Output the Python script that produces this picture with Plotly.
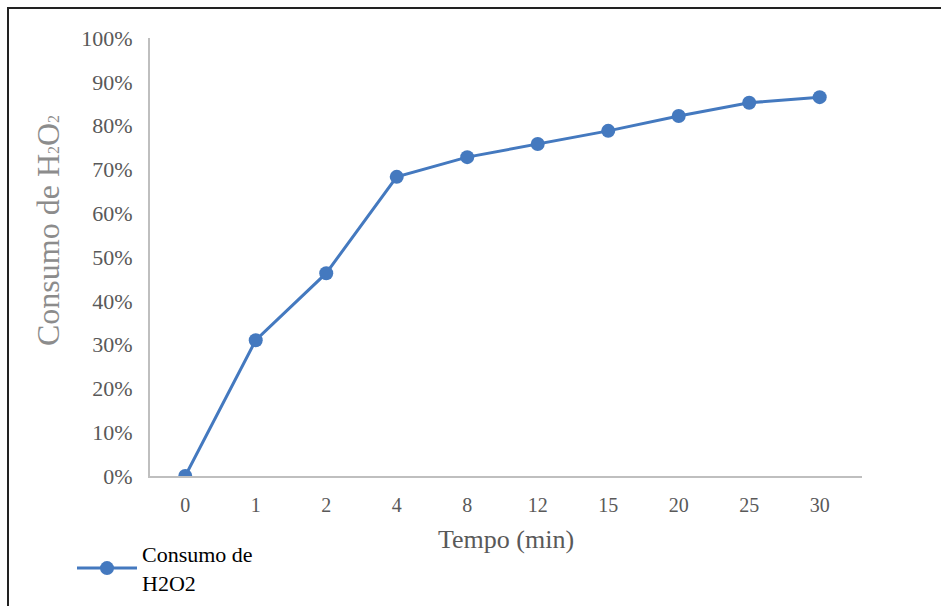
import plotly.graph_objects as go

tempo = ["0", "1", "2", "4", "8", "12", "15", "20", "25", "30"]
consumo = [0.0, 0.310, 0.463, 0.683, 0.728, 0.758, 0.788, 0.822, 0.852, 0.865]
y_ticks = [0, 0.1, 0.2, 0.3, 0.4, 0.5, 0.6, 0.7, 0.8, 0.9, 1.0]
y_tick_labels = ["0%", "10%", "20%", "30%", "40%", "50%", "60%", "70%", "80%", "90%", "100%"]

blue = "#4479BF"
grey_txt = "#595959"
font_fam = "Times New Roman"

fig = go.Figure()
fig.add_trace(go.Scatter(
    x=tempo, y=consumo, mode="lines+markers",
    name="Consumo de<br>H2O2",
    line=dict(color=blue, width=3),
    marker=dict(color=blue, size=14),
))

L, R, T, B = 150, 941 - 862, 38, 606 - 476
W = 941 - L - R
H = 606 - T - B
fig.update_layout(
    width=941, height=606,
    margin=dict(l=L, r=R, t=T, b=B, autoexpand=False),
    paper_bgcolor="white", plot_bgcolor="white",
    font=dict(family=font_fam, color=grey_txt, size=20),
    showlegend=True,
    legend=dict(x=(72 - L) / W, y=(476 - 533) / H, xanchor="left", yanchor="top",
                font=dict(color="black", size=22, family=font_fam),
                itemwidth=60, bgcolor="rgba(0,0,0,0)"),
    xaxis=dict(
        type="category", range=[-0.5, 9.6], automargin=False,
        showline=True, linecolor="#BFBFBF", linewidth=2,
        showgrid=False, ticks="", ticklabelstandoff=10,
        tickfont=dict(size=20, color=grey_txt, family=font_fam),
        title=dict(text="Tempo (min)", font=dict(size=26, color=grey_txt, family=font_fam), standoff=15),
        zeroline=False,
    ),
    yaxis=dict(
        range=[0, 1], tickvals=y_ticks, ticktext=y_tick_labels, automargin=False,
        showline=True, linecolor="#BFBFBF", linewidth=2,
        showgrid=False, ticks="", ticklabelstandoff=11, zeroline=False,
        tickfont=dict(size=22, color=grey_txt, family=font_fam),
    ),
    annotations=[dict(
        text="Consumo de H<span style='font-size:16px'>2</span>O<span style='font-size:16px'>2</span>",
        textangle=-90,
        xref="paper", yref="paper", x=(48 - L) / W, y=(476 - 231) / H,
        xanchor="center", yanchor="middle", showarrow=False,
        font=dict(size=32, color="#8C8C8C", family=font_fam),
    )],
    shapes=[dict(
        type="rect", xref="paper", yref="paper",
        x0=(8 - L) / W, x1=1.3, y0=-0.5, y1=(476 - 8) / H,
        line=dict(color="#222222", width=2), fillcolor="rgba(0,0,0,0)",
    )],
)

fig.write_html("out.html")
